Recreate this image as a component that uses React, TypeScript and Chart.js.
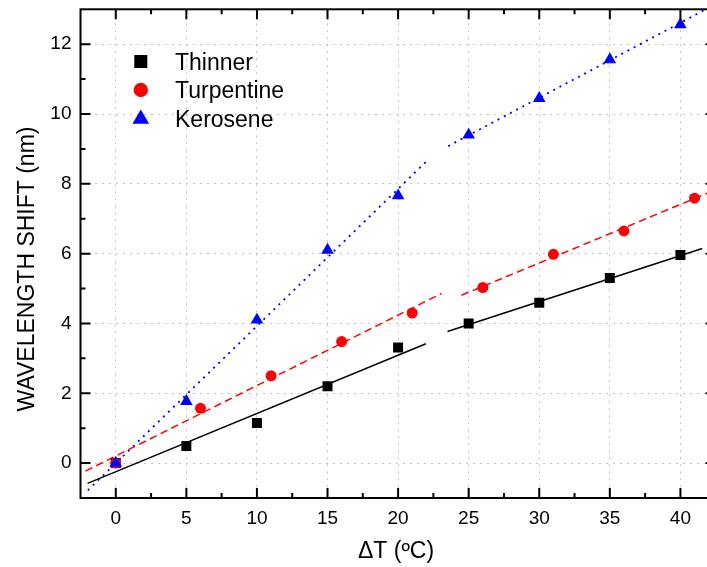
import React, { useEffect, useRef } from 'react';
import { Chart, registerables } from 'chart.js';

Chart.register(...registerables);

// ---- data ----
const xTickValues = [0, 5, 10, 15, 20, 25, 30, 35, 40];
const yTickValues = [0, 2, 4, 6, 8, 10, 12];
const xMinorTicks = [2.5, 7.5, 12.5, 17.5, 22.5, 27.5, 32.5, 37.5];
const yMinorTicks = [1, 3, 5, 7, 9, 11];

const seriesNames = ['Thinner', 'Turpentine', 'Kerosene'];

const thinnerX = [0, 5, 10, 15, 20, 25, 30, 35, 40];
const thinnerY = [0, 0.49, 1.15, 2.2, 3.31, 4.0, 4.59, 5.3, 5.96];
const turpX = [0, 6, 11, 16, 21, 26, 31, 36, 41];
const turpY = [0, 1.57, 2.5, 3.48, 4.3, 5.03, 5.98, 6.65, 7.59];
const keroX = [0, 5, 10, 15, 20, 25, 30, 35, 40];
const keroY = [0, 1.77, 4.1, 6.1, 7.66, 9.4, 10.45, 11.56, 12.56];

// linear-fit segments (end points)
const thinnerFit1X = [-2.0, 21.97];
const thinnerFit1Y = [-0.58, 3.42];
const thinnerFit2X = [23.5, 41.55];
const thinnerFit2Y = [3.77, 6.15];
const turpFit1X = [-2.15, 23.08];
const turpFit1Y = [-0.23, 4.86];
const turpFit2X = [24.5, 42.5];
const turpFit2Y = [4.81, 7.83];
const keroFit1X = [-1.98, 21.97];
const keroFit1Y = [-0.78, 8.63];
const keroFit2X = [23.55, 41.8];
const keroFit2Y = [9.08, 13.0];

const FONT = "'Liberation Sans', Arial, Helvetica, sans-serif";

const pts = (xs: number[], ys: number[]) => xs.map((x, i) => ({ x, y: ys[i] }));

const fitLine = (xs: number[], ys: number[], color: string, dash: number[], width: number) => ({
  data: pts(xs, ys),
  showLine: true,
  borderColor: color,
  borderWidth: width,
  borderDash: dash,
  pointRadius: 0,
  pointHoverRadius: 0,
  fill: false,
  order: 5,
});

const framePlugin = {
  id: 'framePlugin',
  afterDraw(chart: any) {
    const { ctx, chartArea, scales } = chart;
    const { left, right, top, bottom } = chartArea;
    const xs = scales.x;
    const ys = scales.y;
    ctx.save();
    ctx.strokeStyle = '#000';
    ctx.lineWidth = 2;
    ctx.setLineDash([]);
    ctx.strokeRect(left, top, right - left, bottom - top);
    const major = 10;
    const minor = 5;
    ctx.beginPath();
    const vt = (v: number, len: number) => {
      const p = xs.getPixelForValue(v);
      ctx.moveTo(p, bottom);
      ctx.lineTo(p, bottom - len);
      ctx.moveTo(p, top);
      ctx.lineTo(p, top + len);
    };
    const ht = (v: number, len: number) => {
      const p = ys.getPixelForValue(v);
      ctx.moveTo(left, p);
      ctx.lineTo(left + len, p);
      ctx.moveTo(right, p);
      ctx.lineTo(right - len, p);
    };
    xTickValues.forEach((v) => vt(v, major));
    xMinorTicks.forEach((v) => vt(v, minor));
    yTickValues.forEach((v) => ht(v, major));
    yMinorTicks.forEach((v) => ht(v, minor));
    ctx.stroke();

    // legend
    const lx = 140.8;
    const tx = 175;
    const rows = [61.5, 90, 119];
    ctx.fillStyle = '#000';
    ctx.fillRect(lx - 6.5, rows[0] - 6.5, 13, 13);
    ctx.fillStyle = '#ff0000';
    ctx.beginPath();
    ctx.arc(lx, rows[1], 7.2, 0, Math.PI * 2);
    ctx.fill();
    ctx.fillStyle = '#0000ff';
    const r = 9.6;
    ctx.beginPath();
    ctx.moveTo(lx, rows[2] - r);
    ctx.lineTo(lx + r * 0.866, rows[2] + r * 0.5);
    ctx.lineTo(lx - r * 0.866, rows[2] + r * 0.5);
    ctx.closePath();
    ctx.fill();
    ctx.fillStyle = '#000';
    ctx.font = `23px ${FONT}`;
    ctx.textAlign = 'left';
    ctx.textBaseline = 'alphabetic';
    seriesNames.forEach((n, i) => {
      ctx.fillText(n, tx, rows[i] + 8.3);
    });

    // axis titles
    ctx.font = `23px ${FONT}`;
    ctx.textAlign = 'center';
    ctx.fillText('\u0394T (\u00BAC)', 396, 558);
    ctx.save();
    ctx.translate(33.5, 269);
    ctx.rotate(-Math.PI / 2);
    ctx.fillText('WAVELENGTH SHIFT (nm)', 0, 0);
    ctx.restore();
    ctx.restore();
  },
};

export default function App() {
  const ref = useRef<HTMLCanvasElement | null>(null);
  useEffect(() => {
    if (!ref.current) return;
    const chart = new Chart(ref.current, {
      type: 'scatter',
      data: {
        datasets: [
          {
            label: seriesNames[2],
            data: pts(keroX, keroY),
            pointStyle: 'triangle',
            pointRadius: 7.3,
            backgroundColor: '#0000ff',
            borderColor: '#0000ff',
            borderWidth: 0,
            order: 0,
          },
          {
            label: seriesNames[1],
            data: pts(turpX, turpY),
            pointStyle: 'circle',
            pointRadius: 5.5,
            backgroundColor: '#ff0000',
            borderColor: '#ff0000',
            borderWidth: 0,
            order: 1,
          },
          {
            label: seriesNames[0],
            data: pts(thinnerX, thinnerY),
            pointStyle: 'rect',
            pointRadius: 7.07,
            backgroundColor: '#000',
            borderColor: '#000',
            borderWidth: 0,
            order: 2,
          },
          fitLine(thinnerFit1X, thinnerFit1Y, '#000', [], 1.5),
          fitLine(thinnerFit2X, thinnerFit2Y, '#000', [], 1.5),
          fitLine(turpFit1X, turpFit1Y, '#ff0000', [7.5, 4.5], 1.5),
          fitLine(turpFit2X, turpFit2Y, '#ff0000', [7.5, 4.5], 1.5),
          fitLine(keroFit1X, keroFit1Y, '#0000ff', [2, 5], 1.8),
          fitLine(keroFit2X, keroFit2Y, '#0000ff', [2, 5], 1.8),
        ] as any,
      },
      options: {
        animation: false,
        responsive: false,
        devicePixelRatio: 1,
        layout: { padding: { top: 9.3, right: 14.3, left: 0, bottom: 0 } },
        plugins: { legend: { display: false }, tooltip: { enabled: false } },
        events: [],
        scales: {
          x: {
            type: 'linear',
            min: -2.5,
            max: 42.5,
            afterBuildTicks: (s: any) => {
              s.ticks = xTickValues.map((v) => ({ value: v }));
            },
            afterFit: (s: any) => {
              s.height = 69;
              s.paddingLeft = 0;
              s.paddingRight = 0;
            },
            grid: { color: '#c2c2c2', lineWidth: 1, drawTicks: false },
            border: { display: false, dash: [2, 5] },
            ticks: {
              color: '#000',
              font: { family: FONT, size: 19 },
              padding: 9,
              maxRotation: 0,
              autoSkip: false,
            },
          },
          y: {
            type: 'linear',
            min: -1,
            max: 13,
            afterBuildTicks: (s: any) => {
              s.ticks = yTickValues.map((v) => ({ value: v }));
            },
            afterFit: (s: any) => {
              s.width = 80.5;
              s.paddingTop = 0;
              s.paddingBottom = 0;
            },
            grid: { color: '#c2c2c2', lineWidth: 1, drawTicks: false },
            border: { display: false, dash: [2, 5] },
            ticks: {
              color: '#000',
              font: { family: FONT, size: 19 },
              padding: 9,
              autoSkip: false,
            },
          },
        },
      },
      plugins: [framePlugin],
    } as any);
    return () => chart.destroy();
  }, []);
  return (
    <div
      style={{
        position: 'fixed',
        left: 0,
        top: 0,
        width: 707,
        height: 567,
        overflow: 'hidden',
        background: '#fff',
      }}
    >
      <canvas ref={ref} width={730} height={567} style={{ display: 'block' }} />
    </div>
  );
}
